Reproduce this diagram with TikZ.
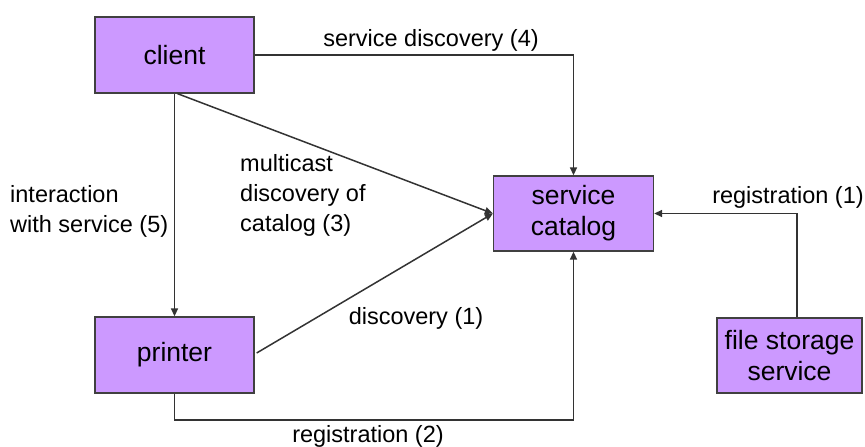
\documentclass[tikz,border=0pt]{standalone}
\usepackage{fontspec}
\setmainfont{Liberation Sans}
\usetikzlibrary{arrows.meta,calc}
\begin{document}
\begin{tikzpicture}[x=1pt,y=-1pt,
  box/.style={draw=black!75,line width=1.3pt,fill={rgb,255:red,204;green,153;blue,255},
    minimum width=159pt,minimum height=76pt,inner sep=0pt,align=center,
    font=\fontsize{26.5}{31}\selectfont},
  lbl/.style={font=\fontsize{23.5}{30}\selectfont,inner sep=0pt},
  conn/.style={draw=black!80,line width=1.5pt,-{Triangle[length=8pt,width=7pt]}},
  plain/.style={draw=black!80,line width=1.5pt}]
\useasboundingbox (0,0) rectangle (865,447);
\node[box] (client) at (174.5,55) {client};
\node[box] (printer) at (174.5,355) {printer};
\node[box,minimum width=160pt,minimum height=75pt] (catalog) at (573.5,213.5) {service\\catalog};
\node[box,minimum width=145pt,minimum height=75pt] (file) at (789.5,355.5) {file storage\\service};
\coordinate (rb) at (174.5,420);
\coordinate (fb) at (797,213.5);
% service discovery (4)
\draw[conn] (client.east) -- (catalog.north |- client.east) -- (catalog.north);
% interaction
\draw[conn] (client.south) -- (printer.south |- printer.north);
% multicast
\draw[conn] ($(client.south)+(3,0)$) -- (catalog.west);
% discovery (1)
\draw[conn] ($(printer.east)+(2,-2)$) -- (catalog.west);
% registration (2)
\draw[conn] (printer.south) -- (rb) -- (rb -| catalog.south) -- (catalog.south);
% registration (1)
\draw[conn] (file.north -| fb) -- (fb) -- (catalog.east);
\node[lbl] (l4) at (431,40) {service discovery (4)};
\node[lbl,anchor=west,align=left] (l5) at (10,211) {interaction\\with service (5)};
\node[lbl,anchor=west,align=left] (l3) at (240,195) {multicast\\discovery of\\catalog (3)};
\node[lbl] (l1) at (416,318) {discovery (1)};
\node[lbl] (r1) at (788,197) {registration (1)};
\node[lbl] (r2) at (368,436) {registration (2)};
\end{tikzpicture}
\end{document}
